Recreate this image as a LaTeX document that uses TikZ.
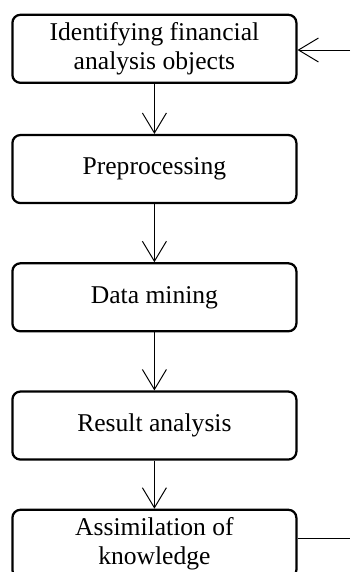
\documentclass[tikz,border=0pt]{standalone}
\usepackage{fontspec}
\setmainfont{Liberation Serif}
\usepackage{tikz}
\usetikzlibrary{arrows.meta,positioning}
\tikzstyle{stage}=[draw, line width=1.6pt, rounded corners=0.2cm, minimum width=7.1cm, minimum height=1.7cm, align=center, font=\fontsize{18.2}{21}\selectfont]
\tikzstyle{flow}=[line width=0.7pt, -{Straight Barb[length=0.5cm,width=0.6cm,line width=0.7pt]}]

\begin{document}
\begin{tikzpicture}
		\useasboundingbox (0,0) rectangle (8.75,-14.3);
		\node[stage] (identify) at (3.86,-1.22) {Identifying financial\\analysis objects};
		\node[stage, below=1.25cm of identify] (preprocess) {Preprocessing};
		\node[stage, below=1.45cm of preprocess] (mining) {Data mining};
		\node[stage, below=1.45cm of mining] (result) {Result analysis};
		\node[stage, below=1.2cm of result] (assimilate) {Assimilation of\\knowledge};
		\coordinate (feedin) at (8.75,-1.25);
		\coordinate (feedout) at (8.75,-13.47);
		\draw[flow] (identify) -- (preprocess);
		\draw[flow] (preprocess) -- (mining);
		\draw[flow] (mining) -- (result);
		\draw[flow] (result) -- (assimilate);
		\draw[flow] (feedin) -- (feedin -| identify.east);
		\draw[line width=0.7pt] (assimilate.east |- feedout) -- (feedout);
	\end{tikzpicture}
\end{document}
